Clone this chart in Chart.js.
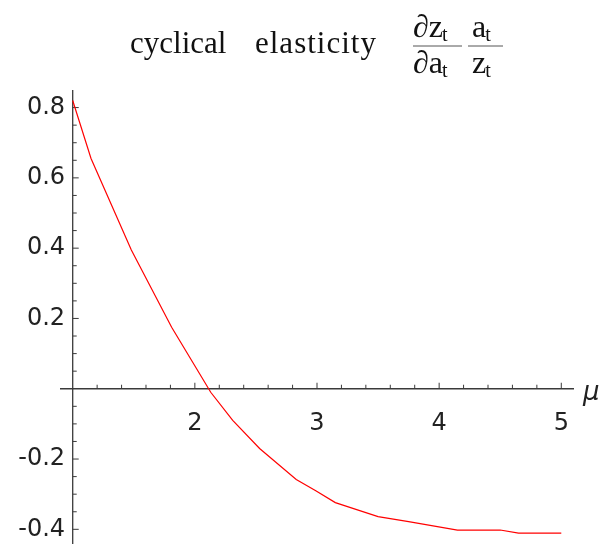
<!DOCTYPE html>
<html>
<head>
<meta charset="utf-8">
<script src="https://cdn.jsdelivr.net/npm/chart.js@4"></script>
<style>
  html, body { margin: 0; padding: 0; background: #fff; }
  #wrap { width: 608px; height: 544px; }
</style>
</head>
<body>
<div id="wrap"><canvas id="chart" width="608" height="544"></canvas></div>
<script>
// values
const muValues = [1.0, 1.15, 1.48, 1.81, 2.13, 2.31, 2.53, 2.83, 2.99, 3.15, 3.5, 3.75, 4.15, 4.5, 4.65, 5.0];
const elasticity = [0.82, 0.655, 0.395, 0.175, -0.01, -0.09, -0.17, -0.258, -0.29, -0.324, -0.364, -0.378, -0.402, -0.402, -0.411, -0.411];
const xTickLabels = [2, 3, 4, 5];
const yTickLabels = [-0.4, -0.2, 0.2, 0.4, 0.6, 0.8];
const xMinorTicks = [1.2, 1.4, 1.6, 1.8, 2.2, 2.4, 2.6, 2.8, 3.2, 3.4, 3.6, 3.8, 4.2, 4.4, 4.6, 4.8];
const yMinorTicks = [-0.35, -0.3, -0.25, -0.15, -0.1, -0.05, 0.05, 0.1, 0.15, 0.25, 0.3, 0.35, 0.45, 0.5, 0.55, 0.65, 0.7, 0.75];

const axisColor = '#3a3a3a';
const titleFont = '"Liberation Serif"';

// axes through the origin with Mathematica-style inward ticks
const axesPlugin = {
  id: 'axes',
  beforeDatasetsDraw(chart) {
    const { ctx, chartArea, scales: { x, y } } = chart;
    const x0 = x.getPixelForValue(1);
    const y0 = y.getPixelForValue(0);
    ctx.save();
    ctx.strokeStyle = axisColor;
    ctx.lineWidth = 1.3;
    ctx.beginPath();
    ctx.moveTo(chartArea.left, y0);
    ctx.lineTo(chartArea.right, y0);
    ctx.moveTo(x0, chartArea.top);
    ctx.lineTo(x0, chart.height);
    ctx.stroke();

    ctx.lineWidth = 1;
    ctx.beginPath();
    xTickLabels.forEach(v => { const p = x.getPixelForValue(v); ctx.moveTo(p, y0); ctx.lineTo(p, y0 - 6); });
    xMinorTicks.forEach(v => { const p = x.getPixelForValue(v); ctx.moveTo(p, y0); ctx.lineTo(p, y0 - 4); });
    yTickLabels.forEach(v => { const p = y.getPixelForValue(v); ctx.moveTo(x0, p); ctx.lineTo(x0 + 6, p); });
    yMinorTicks.forEach(v => { const p = y.getPixelForValue(v); ctx.moveTo(x0, p); ctx.lineTo(x0 + 4, p); });
    ctx.stroke();

    // axis label
    ctx.fillStyle = '#222';
    ctx.font = 'italic 26px "DejaVu Sans"';
    ctx.textBaseline = 'alphabetic';
    ctx.fillText('\u03bc', chartArea.right + 9, y0 + 11);
    ctx.restore();
  },
  afterDraw(chart) {
    const ctx = chart.ctx;
    const txt = (text, px, base, size) => {
      ctx.font = size + 'px ' + titleFont;
      ctx.fillText(text, px, base);
      return px + ctx.measureText(text).width;
    };
    // letter with subscript t
    const withSub = (main, px, base) => {
      const e = txt(main, px, base, 32);
      return txt('t', e - 1, base + 4, 20);
    };
    ctx.save();
    ctx.fillStyle = '#111';
    ctx.textBaseline = 'alphabetic';
    txt('cyclical', 130, 53, 31);
    ctx.letterSpacing = '1px';
    txt('elasticity', 255, 53, 31);
    ctx.letterSpacing = '0px';

    withSub('\u2202z', 413, 37);
    withSub('a', 472, 37);
    withSub('\u2202a', 413, 73);
    withSub('z', 472, 73);

    ctx.strokeStyle = '#555';
    ctx.lineWidth = 1;
    ctx.beginPath();
    ctx.moveTo(413, 46); ctx.lineTo(462, 46);
    ctx.moveTo(468, 46); ctx.lineTo(503, 46);
    ctx.stroke();
    ctx.restore();
  }
};

new Chart(document.getElementById('chart').getContext('2d'), {
  type: 'line',
  data: {
    datasets: [{
      data: muValues.map((m, i) => ({ x: m, y: elasticity[i] })),
      borderColor: '#ff0000',
      borderWidth: 1.2,
      pointRadius: 0,
      tension: 0,
      fill: false,
      clip: false
    }]
  },
  options: {
    responsive: false,
    animation: false,
    layout: { autoPadding: false, padding: { left: 60, right: 34, top: 90, bottom: 0 } },
    plugins: { legend: { display: false }, tooltip: { enabled: false }, title: { display: false } },
    scales: {
      x: {
        type: 'linear',
        min: 0.896,
        max: 5.104,
        position: { y: 0 },
        grid: { display: false, drawTicks: false },
        border: { display: false },
        ticks: {
          stepSize: 1,
          includeBounds: false,
          autoSkip: false,
          maxRotation: 0,
          padding: 21,
          color: '#222',
          font: { family: 'DejaVu Sans', size: 24 },
          callback: v => xTickLabels.includes(v) ? String(v) : null
        }
      },
      y: {
        type: 'linear',
        min: -0.415,
        max: 0.85,
        position: { x: 1 },
        grid: { display: false, drawTicks: false },
        border: { display: false },
        ticks: {
          stepSize: 0.2,
          includeBounds: false,
          autoSkip: false,
          padding: 7,
          color: '#222',
          font: { family: 'DejaVu Sans', size: 24, lineHeight: 0.2 },
          // trailing space keeps the label clear of the axis (padding is ignored for a positioned axis)
          callback: v => yTickLabels.some(t => Math.abs(t - v) < 1e-9) ? v.toFixed(1) + ' ' : null
        }
      }
    }
  },
  plugins: [axesPlugin]
});
</script>
</body>
</html>
